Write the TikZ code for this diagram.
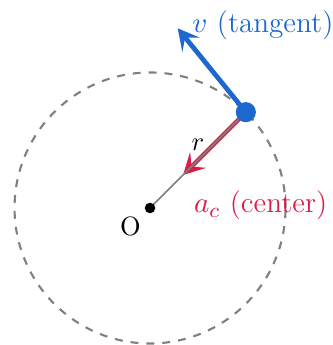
\documentclass[tikz,border=0pt]{standalone}
\usepackage{amsmath}
\usetikzlibrary{arrows.meta,positioning,calc}
\definecolor{velblue}{RGB}{28,104,206}
\definecolor{accred}{RGB}{218,28,72}

\begin{document}
\begin{tikzpicture}[
  pt/.style={circle, fill, inner sep=0pt},
  vel/.style={draw=velblue, line width=1.8pt, -{Stealth[length=8pt, width=8.5pt, inset=3.5pt]}},
  acc/.style={draw=accred, line width=1.6pt, -{Stealth[length=8pt, width=8.5pt, inset=3.5pt]}},
  rad/.style={draw=gray, line width=0.6pt},
  lbl/.style={font=\fontsize{11}{13}\selectfont}
]
\useasboundingbox (-1.993,-1.82) rectangle (2.418,2.763);
\coordinate (O) at (0,0);
\coordinate (P) at (45:1.8);
\coordinate (V) at ($(P)+(-0.905,1.114)$);
\coordinate (A) at ($(O)!0.345!(P)$);
\draw[gray, thick, dashed] (O) circle (1.8);
\draw[acc] (P) -- (A);
\draw[rad] (O) -- (P) node[midway, above] (rlbl) {$r$};
\draw[vel] (P) -- (V);
\node[pt, fill=velblue, minimum size=7.6pt] (Pdot) at (P) {};
\node[pt, minimum size=4pt] (Odot) at (O) {};
\node[below left] (Olbl) at (O) {O};
\node[lbl, right, text=velblue, xshift=2pt, yshift=1pt] (vlbl) at (V) {$v$ (tangent)};
\node[lbl, right, text=accred] (albl) at (0.46,0.03) {$a_c$ (center)};
\end{tikzpicture}
\end{document}
